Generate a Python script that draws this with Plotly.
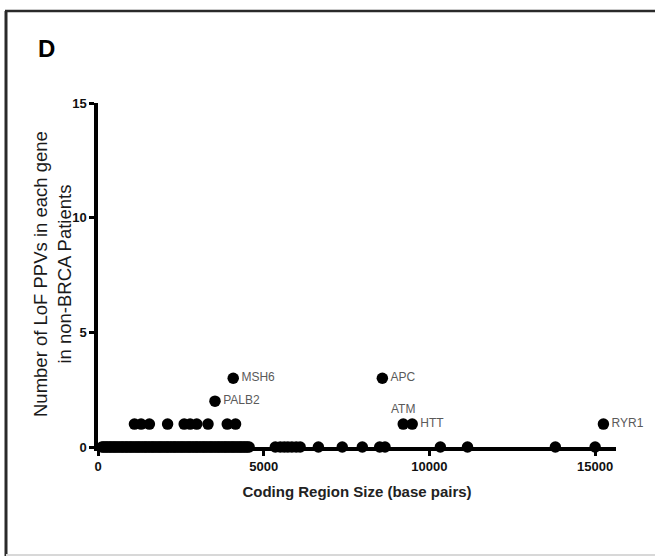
import plotly.graph_objects as go

# ---- data ----
zero_sizes = [120, 160, 210, 250, 290, 340, 380, 420, 470, 510, 550, 600, 640, 690, 730,
              770, 820, 860, 900, 950, 990, 1030, 1080, 1120, 1170, 1210, 1250, 1300, 1340,
              1390, 1430, 1470, 1520, 1560, 1610, 1650, 1690, 1740, 1780, 1830, 1870, 1910,
              1960, 2000, 2050, 2090, 2130, 2180, 2220, 2270, 2310, 2350, 2400, 2440, 2490,
              2530, 2570, 2620, 2660, 2710, 2750, 2790, 2840, 2880, 2930, 2970, 3010, 3060,
              3100, 3150, 3190, 3230, 3280, 3320, 3370, 3410, 3450, 3500, 3540, 3590, 3630,
              3670, 3720, 3760, 3810, 3850, 3890, 3940, 3980, 4030, 4070, 4110, 4160, 4200,
              4250, 4290, 4330, 4380, 4420, 4470, 4510, 4560,
              5350, 5500, 5620, 5730, 5850, 5980, 6100, 6650, 7370, 7975, 8500, 8660,
              10330, 11150, 13800, 15000]
zero_counts = [0] * len(zero_sizes)

one_sizes = [1100, 1300, 1550, 2100, 2600, 2780, 2980, 3320, 3900, 4150]
one_counts = [1] * len(one_sizes)

gene_names = ["MSH6", "PALB2", "APC", "ATM", "HTT", "RYR1"]
gene_sizes = [4080, 3530, 8580, 9210, 9480, 15250]
gene_counts = [3, 2, 3, 1, 1, 1]
gene_text_pos = ["middle right", "middle right", "middle right", "top center",
                 "middle right", "middle right"]

x_ticks = [0, 5000, 10000, 15000]
y_ticks = [0, 5, 10, 15]

FONT = "Arial, Liberation Sans, sans-serif"
marker = dict(color="black", size=11.5, line=dict(width=0))

fig = go.Figure()
fig.add_trace(go.Scatter(x=zero_sizes, y=zero_counts, mode="markers", marker=marker,
                         cliponaxis=False, showlegend=False, hoverinfo="x"))
fig.add_trace(go.Scatter(x=one_sizes, y=one_counts, mode="markers", marker=marker,
                         cliponaxis=False, showlegend=False, hoverinfo="x"))
fig.add_trace(go.Scatter(x=gene_sizes, y=gene_counts, mode="markers+text", marker=marker,
                         text=gene_names, textposition=gene_text_pos,
                         textfont=dict(family=FONT, size=12, color="#5a5a5a"),
                         cliponaxis=False, showlegend=False, hoverinfo="text"))

L, R, T, B = 98, 616, 103, 447
W, H = R - L, B - T

def px(x):
    return (x - L) / W

def py(y):
    return (B - y) / H

fig.update_layout(
    width=655, height=556,
    margin=dict(l=L, r=655 - R, t=T, b=556 - B),
    paper_bgcolor="white", plot_bgcolor="white",
    font=dict(family=FONT, color="black"),
    xaxis=dict(range=[0, 15630], tickvals=x_ticks, ticktext=["<b>%d</b>" % v for v in x_ticks],
               showgrid=False, zeroline=False, showline=True, linecolor="black", linewidth=3.5,
               ticks="outside", ticklen=5, tickwidth=2.5, tickcolor="black",
               tickfont=dict(size=13, color="#111111"),
               title=dict(text="<b>Coding Region Size (base pairs)</b>",
                          font=dict(size=15, color="#222222"), standoff=14)),
    yaxis=dict(range=[0, 15], tickvals=y_ticks, ticktext=["<b>%d</b>" % v for v in y_ticks],
               showgrid=False, zeroline=False, showline=True, linecolor="black", linewidth=3.5,
               ticks="outside", ticklen=5, tickwidth=2.5, tickcolor="black",
               tickfont=dict(size=13, color="#111111")),
    shapes=[
        dict(type="line", xref="paper", yref="paper", x0=px(6), x1=px(6), y0=py(556), y1=py(11),
             line=dict(color="#2a2a2a", width=3)),
        dict(type="line", xref="paper", yref="paper", x0=px(5), x1=px(660), y0=py(11), y1=py(11),
             line=dict(color="#2a2a2a", width=2.5)),
        dict(type="line", xref="paper", yref="paper", x0=px(6), x1=px(660), y0=py(555), y1=py(555),
             line=dict(color="#d8d8d8", width=2)),
    ],
    annotations=[
        dict(text="<b>D</b>", xref="paper", yref="paper",
             x=px(36), y=py(33), xanchor="left", yanchor="top",
             showarrow=False, font=dict(size=24, color="black")),
        dict(text="Number of LoF PPVs in each gene<br>in non-BRCA Patients",
             xref="paper", yref="paper", x=px(52), y=py(274), xanchor="center", yanchor="middle",
             textangle=-90, showarrow=False, font=dict(size=18.5, color="#1a1a1a")),
    ],
)

fig.write_html("out.html", config={"displayModeBar": False},
               post_script="document.body.style.margin='0';")
